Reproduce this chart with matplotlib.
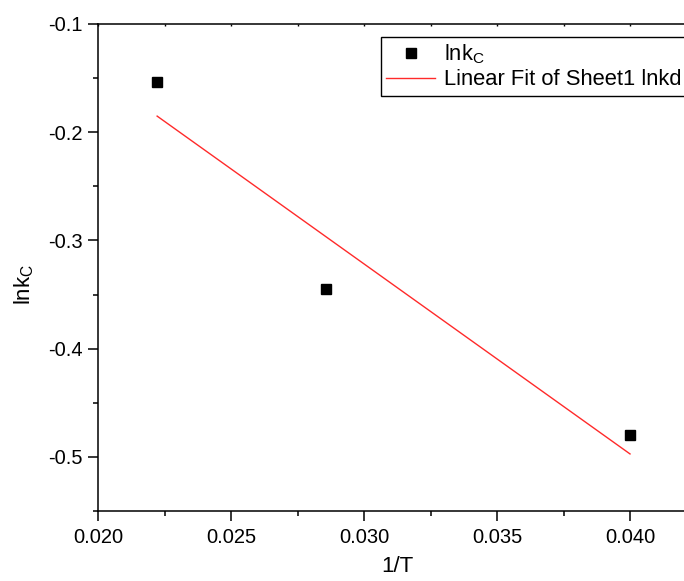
import numpy as np
import matplotlib.pyplot as plt
from matplotlib.ticker import MultipleLocator

plt.rcParams['font.family'] = ['Liberation Sans', 'DejaVu Sans']
plt.rcParams['mathtext.fontset'] = 'custom'
plt.rcParams['mathtext.rm'] = 'Liberation Sans'

# 1/T and ln k_C
inv_T = np.array([1 / 45, 1 / 35, 1 / 25])
lnk_c = np.array([-0.154, -0.345, -0.480])

slope, intercept = np.polyfit(inv_T, lnk_c, 1)
fit_x = np.array([inv_T.min(), inv_T.max()])
fit_y = slope * fit_x + intercept

fig = plt.figure(figsize=(6.84, 5.81), dpi=100)
ax = fig.add_axes([0.1433, 0.1205, 0.875, 0.8382])

ax.plot(inv_T, lnk_c, 's', color='black', ms=7.5, label=r'lnk$_{\mathregular{C}}$')
ax.plot(fit_x, fit_y, '-', color='#ff2a2a', lw=1.0, label='Linear Fit of Sheet1 lnkd')

ax.set_xlim(0.020, 0.0425)
ax.set_ylim(-0.55, -0.1)
ax.xaxis.set_major_locator(MultipleLocator(0.005))
ax.xaxis.set_minor_locator(MultipleLocator(0.0025))
ax.yaxis.set_major_locator(MultipleLocator(0.1))
ax.yaxis.set_minor_locator(MultipleLocator(0.05))
ax.xaxis.set_major_formatter(lambda v, p: f'{v:.3f}')
ax.yaxis.set_major_formatter(lambda v, p: f'{v:.1f}')

for s in ax.spines.values():
    s.set_linewidth(1.1)
ax.spines['right'].set_visible(False)

ax.tick_params(which='both', direction='out', width=1.1, labelsize=14.5)
ax.tick_params(axis='x', pad=5)
ax.tick_params(axis='y', pad=4)
ax.tick_params(which='major', length=7)
ax.tick_params(which='minor', length=3.5)

# tiny inward ticks along the top edge
top = ax.secondary_xaxis('top')
top.set_xticks(np.arange(0.020, 0.0426, 0.0025))
top.tick_params(direction='in', length=1.5, width=1.0, labeltop=False)
top.spines['top'].set_visible(False)

ax.set_xlabel('1/T', fontsize=16, labelpad=7)
ax.set_ylabel(r'lnk$_{\mathregular{C}}$', fontsize=16)
ax.yaxis.set_label_coords(-0.104, 0.466)

leg = ax.legend(loc='upper left', bbox_to_anchor=(381 / 684, 1 - 37 / 581),
                bbox_transform=fig.transFigure, fontsize=15.8, frameon=True,
                fancybox=False, edgecolor='black', framealpha=1,
                borderpad=0.25, handlelength=2.2, handletextpad=0.4,
                labelspacing=0.15, borderaxespad=0)
leg.get_frame().set_linewidth(1.0)

fig.savefig('out.png', dpi=100)
